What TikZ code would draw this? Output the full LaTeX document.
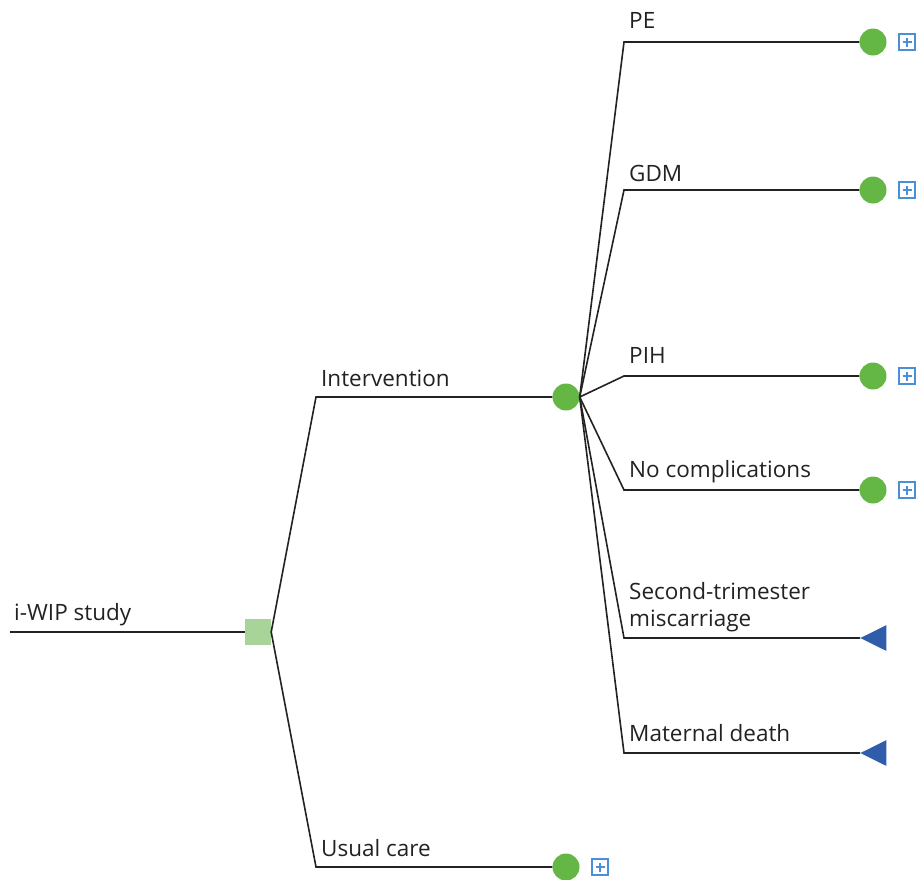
\documentclass[tikz,border=0pt]{standalone}
\usepackage{fontspec}
\setmainfont{Open Sans}
\usetikzlibrary{shapes.geometric}
\definecolor{chancegreen}{RGB}{101,183,69}
\definecolor{decisiongreen}{RGB}{168,212,154}
\definecolor{termblue}{RGB}{47,93,170}
\definecolor{plusblue}{RGB}{74,144,217}
\definecolor{linegray}{RGB}{34,34,34}
\tikzset{
  decision/.style = {rectangle, fill=decisiongreen, minimum size=26pt, inner sep=0pt},
  chance/.style = {circle, fill=chancegreen, minimum size=27pt, inner sep=0pt},
  terminal/.style = {isosceles triangle, isosceles triangle apex angle=53, fill=termblue,
    shape border rotate=180, minimum height=26pt, inner sep=0pt, anchor=apex},
  expand/.style = {rectangle, draw=plusblue, line width=1.5pt, minimum size=16pt, inner sep=0pt,
    path picture={\draw[plusblue, line width=1.5pt]
      ([xshift=-4.5pt]path picture bounding box.center) -- ([xshift=4.5pt]path picture bounding box.center)
      ([yshift=-4.5pt]path picture bounding box.center) -- ([yshift=4.5pt]path picture bounding box.center);}},
  branch/.style = {draw=linegray, line width=1.6pt},
  blabel/.style = {anchor=base west, inner sep=0pt, font=\fontsize{22.5}{27}\selectfont, text=linegray, align=left},
}
\begin{document}
\begin{tikzpicture}[x=1pt, y=-1pt]
\useasboundingbox (0,0) rectangle (918,879);
% decision node and root
\coordinate (root) at (10,632);
\node [decision] (D) at (258,632) {};
\draw [branch] (root) -- (D.west);
\node [blabel] (Lroot) at (14,620) {i-WIP study};
% strategies
\coordinate (int) at (316,397);
\coordinate (usu) at (316,867);
\node [chance] (C) at (566,397) {};
\node [chance] (U) at (566,867) {};
\node [expand] (Ux) at (600,867) {};
\draw [branch] (D.east) -- (int) -- (C);
\draw [branch] (D.east) -- (usu) -- (U);
\node [blabel] at (321,386) {Intervention};
\node [blabel] at (321,856) {Usual care};
% outcomes of the intervention
\foreach \y/\b/\name/\txt in {42/28/pe/PE, 190/181/gdm/GDM, 376/363/pih/PIH, 490/477/noc/No complications}{
  \coordinate (\name) at (624,\y);
  \node [chance] (\name c) at (873,\y) {};
  \node [expand] (\name x) at (907,\y) {};
  \draw [branch] (C.east) -- (\name) -- (\name c);
  \node [blabel] at (629,\b) {\txt};
}
\foreach \y/\name in {638/stm, 753/md}{
  \coordinate (\name) at (624,\y);
  \node [terminal] (\name t) at (860,\y) {};
  \draw [branch] (C.east) -- (\name) -- (\name t.apex);
}
\node [blabel] at (629,626) {Second-trimester\\miscarriage};
\node [blabel] at (629,741) {Maternal death};
\end{tikzpicture}
\end{document}
